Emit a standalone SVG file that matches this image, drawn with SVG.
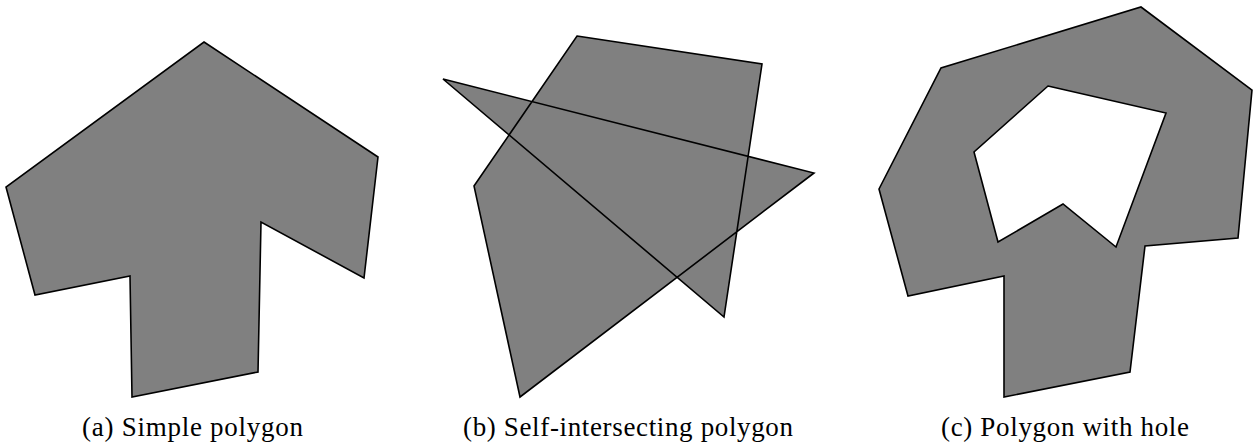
<svg xmlns="http://www.w3.org/2000/svg" width="1259" height="443" viewBox="0 0 1259 443">
<style>
.poly{fill:#808080;stroke:#000;stroke-width:1.6;stroke-linejoin:miter;fill-rule:nonzero}
.hole{fill:#808080;stroke:#000;stroke-width:1.6;fill-rule:evenodd}
.cap{font-family:"Liberation Serif","Times New Roman",serif;font-size:27px;fill:#000}
</style>
<rect width="1259" height="443" fill="#fff"/>
<g id="simple">
<polygon class="poly" points="204,42 378,157 364,278 261,222 258,372 132,397 130,276 35,295 6,187"/>
<text class="cap" x="82" y="436" textLength="221" lengthAdjust="spacing">(a) Simple polygon</text>
</g>
<g id="self-intersecting">
<polygon class="poly" points="577,36 762,64 724,317 443,79 814,173 520,397 474,186"/>
<text class="cap" x="463" y="436" textLength="330" lengthAdjust="spacing">(b) Self-intersecting polygon</text>
</g>
<g id="with-hole">
<path class="hole" d="M1141,7 L1252,90 L1238,238 L1145,246 L1130,372 L1004,397 L1004,276 L908,296 L879,189 L941,68 Z M1048,86 L1166,113 L1116,247 L1063,204 L998,242 L974,152 Z"/>
<text class="cap" x="941" y="436" textLength="248" lengthAdjust="spacing">(c) Polygon with hole</text>
</g>
<g id="connectors"/>
</svg>
